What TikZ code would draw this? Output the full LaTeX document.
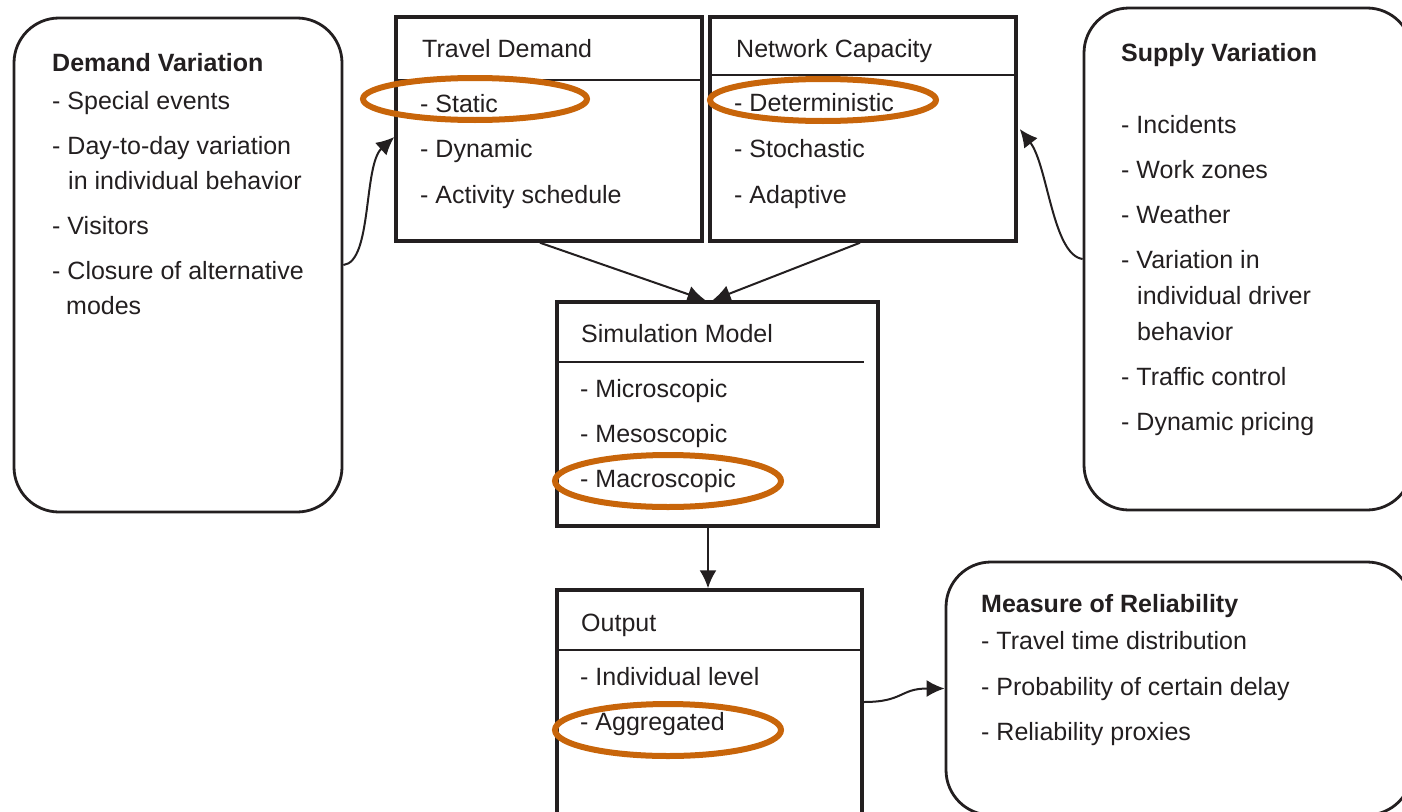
\documentclass[tikz,border=0pt]{standalone}
\usepackage{fontspec}
\setmainfont{Liberation Sans}
\usetikzlibrary{arrows.meta}

\definecolor{ink}{HTML}{231F20}
\definecolor{mark}{HTML}{C8650A}

\tikzset{
  sqbox/.style={draw=ink,line width=3.5pt,rectangle,inner sep=0pt},
  rndbox/.style={draw=ink,line width=2.8pt,rectangle,rounded corners=45pt,inner sep=0pt},
  sep/.style={draw=ink,line width=2.2pt},
  item/.style={anchor=base west,inner sep=0pt,yshift=-9pt,text=ink,font=\fontsize{25}{30}\selectfont},
  title/.style={item,font=\fontsize{25}{30}\selectfont\bfseries},
  link/.style={draw=ink,line width=2pt,-{Latex[length=18pt,width=17pt]}},
  hl/.style={draw=mark,line width=6pt}
}

\begin{document}
\begin{tikzpicture}[x=1pt,y=-1pt]
\path[use as bounding box,clip] (0,0) rectangle (1402,811);

% boxes
\node[rndbox,minimum width=328pt,minimum height=494pt] (dv) at (178,265) {};
\node[sqbox,minimum width=306pt,minimum height=224pt] (td) at (549,129) {};
\node[sqbox,minimum width=306pt,minimum height=224pt] (nc) at (863,129) {};
\node[rndbox,minimum width=328pt,minimum height=502pt] (sv) at (1248,259) {};
\node[sqbox,minimum width=321pt,minimum height=224pt] (sm) at (717.5,414) {};
\node[sqbox,minimum width=305pt,minimum height=250pt] (out) at (709.5,715) {};
\node[rndbox,minimum width=466pt,minimum height=253pt] (mr) at (1179,688.5) {};

% header lines
\draw[sep] ([yshift=-65pt]td.north west) -- ([yshift=-65pt]td.north east);
\draw[sep] ([yshift=-60pt]nc.north west) -- ([yshift=-60pt]nc.north east);
\draw[sep] ([yshift=-62pt]sm.north west) -- ([xshift=-16pt,yshift=-62pt]sm.north east);
\draw[sep] ([yshift=-62pt]out.north west) -- ([yshift=-62pt]out.north east);

% texts
\node[title] (dvt) at (52,62) {Demand Variation};
\foreach \x/\y/\t [count=\i] in {52/100/{- Special events},52/145/{- Day-to-day variation},
    68/180/{in individual behavior},52/225/{- Visitors},52/270/{- Closure of alternative},66/305/{modes}}
  \node[item] (dv\i) at (\x,\y) {\t};

\node[item] (tdt) at (422,48) {Travel Demand};
\foreach \y/\t [count=\i] in {103/{- Static},148/{- Dynamic},194/{- Activity schedule}}
  \node[item] (td\i) at (420,\y) {\t};

\node[item] (nct) at (736,48) {Network Capacity};
\foreach \y/\t [count=\i] in {102/{- Deterministic},148/{- Stochastic},194/{- Adaptive}}
  \node[item] (nc\i) at (734,\y) {\t};

\node[title] (svt) at (1121,52) {Supply Variation};
\foreach \x/\y/\t [count=\i] in {1121/124/{- Incidents},1121/169/{- Work zones},1121/214/{- Weather},
    1121/259/{- Variation in},1137/295/{individual driver},1137/331/{behavior},
    1121/376/{- Traffic control},1121/421/{- Dynamic pricing}}
  \node[item] (sv\i) at (\x,\y) {\t};

\node[item] (smt) at (581,333) {Simulation Model};
\foreach \y/\t [count=\i] in {388/{- Microscopic},433/{- Mesoscopic},478/{- Macroscopic}}
  \node[item] (sm\i) at (580,\y) {\t};

\node[item] (outt) at (581,622) {Output};
\foreach \y/\t [count=\i] in {676/{- Individual level},721/{- Aggregated}}
  \node[item] (out\i) at (580,\y) {\t};

\node[title] (mrt) at (981,603) {Measure of Reliability};
\foreach \y/\t [count=\i] in {640/{- Travel time distribution},686/{- Probability of certain delay},731/{- Reliability proxies}}
  \node[item] (mr\i) at (981,\y) {\t};

% highlights
\draw[hl] (475,99) ellipse [x radius=112,y radius=21];
\draw[hl] (823,100) ellipse [x radius=113,y radius=21];
\draw[hl] (668,481) ellipse [x radius=113,y radius=26];
\draw[hl] (668,730) ellipse [x radius=113,y radius=26];

% connectors
\draw[link] ([xshift=-9pt]td.south) -- ([xshift=-12pt]sm.north);
\draw[link] ([xshift=-3pt]nc.south) -- ([xshift=-5pt]sm.north);
\draw[link] ([xshift=-9.5pt]sm.south) -- ([xshift=-1.5pt]out.north);
\draw[link] (dv.east) .. controls +(29,-3) and +(-31,28) .. ([yshift=-8pt]td.west);
\draw[link] (sv.west) .. controls +(-30,-4) and +(28,36) .. ([xshift=2pt]nc.east);
\draw[link] ([yshift=13pt]out.east) .. controls +(40,0) and +(-45,0) .. (mr.west);
\end{tikzpicture}
\end{document}
